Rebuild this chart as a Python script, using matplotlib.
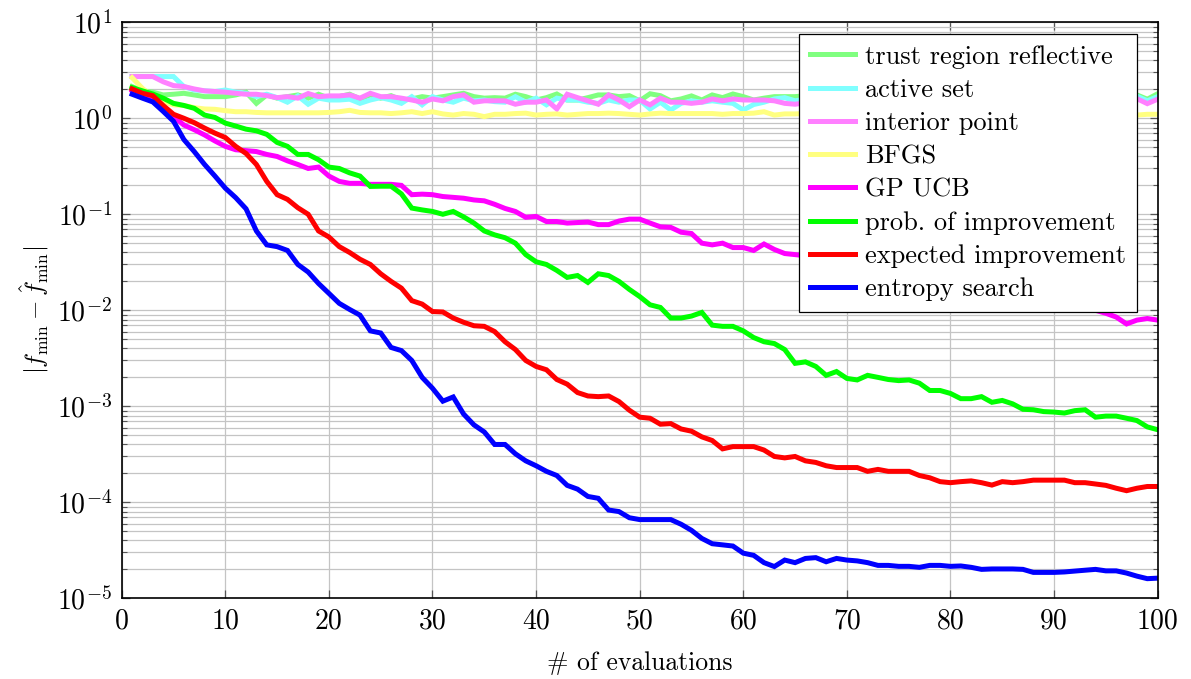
import numpy as np
import matplotlib
matplotlib.use("Agg")
import matplotlib.pyplot as plt

plt.rcParams['font.family'] = 'cmr10'
plt.rcParams['mathtext.fontset'] = 'cm'
plt.rcParams['axes.formatter.use_mathtext'] = True

## DATA
evals = np.arange(1, 101)

trust_region = [2.14, 1.93, 1.87, 1.75, 1.78, 1.82, 1.75, 1.68, 1.68, 1.68,
                1.75, 1.87, 1.43, 1.75, 1.62, 1.68, 1.75, 1.62, 1.78, 1.62,
                1.68, 1.78, 1.59, 1.75, 1.62, 1.72, 1.55, 1.59, 1.68, 1.62,
                1.68, 1.75, 1.82, 1.68, 1.62, 1.64, 1.62, 1.78, 1.68, 1.55,
                1.64, 1.79, 1.55, 1.55, 1.64, 1.75, 1.75, 1.68, 1.72, 1.52,
                1.80, 1.72, 1.52, 1.59, 1.71, 1.55, 1.75, 1.64, 1.79, 1.68,
                1.55, 1.62, 1.68, 1.68, 1.68, 1.72, 1.60, 1.76, 1.65, 1.70,
                1.58, 1.74, 1.66, 1.62, 1.78, 1.64, 1.70, 1.56, 1.73, 1.66,
                1.61, 1.77, 1.68, 1.63, 1.72, 1.58, 1.75, 1.66, 1.70, 1.60,
                1.74, 1.65, 1.69, 1.62, 1.76, 1.67, 1.71, 1.75, 1.58, 1.80]

active_set = [2.72, 2.72, 2.72, 2.72, 2.72, 2.14, 1.97, 1.93, 1.90, 1.97,
              1.87, 1.82, 1.68, 1.78, 1.64, 1.47, 1.71, 1.40, 1.62, 1.55,
              1.55, 1.58, 1.43, 1.55, 1.64, 1.55, 1.43, 1.68, 1.38, 1.68,
              1.55, 1.47, 1.62, 1.52, 1.55, 1.49, 1.47, 1.68, 1.47, 1.62,
              1.38, 1.62, 1.55, 1.55, 1.47, 1.43, 1.55, 1.47, 1.55, 1.55,
              1.25, 1.47, 1.22, 1.43, 1.52, 1.47, 1.52, 1.47, 1.43, 1.22,
              1.39, 1.47, 1.59, 1.64, 1.52, 1.58, 1.50, 1.62, 1.45, 1.55,
              1.60, 1.48, 1.56, 1.40, 1.58, 1.52, 1.62, 1.47, 1.55, 1.50,
              1.60, 1.44, 1.57, 1.53, 1.61, 1.46, 1.55, 1.50, 1.63, 1.48,
              1.56, 1.42, 1.58, 1.52, 1.60, 1.49, 1.57, 1.70, 1.52, 1.68]

interior_point = [2.72, 2.72, 2.72, 2.40, 2.19, 2.14, 2.02, 1.93, 1.90, 1.87,
                  1.82, 1.78, 1.78, 1.72, 1.64, 1.68, 1.62, 1.81, 1.68, 1.71,
                  1.71, 1.75, 1.62, 1.82, 1.68, 1.68, 1.62, 1.55, 1.47, 1.59,
                  1.52, 1.68, 1.75, 1.47, 1.52, 1.52, 1.52, 1.40, 1.47, 1.47,
                  1.55, 1.25, 1.78, 1.64, 1.52, 1.40, 1.75, 1.55, 1.32, 1.55,
                  1.38, 1.62, 1.47, 1.47, 1.43, 1.47, 1.59, 1.52, 1.59, 1.55,
                  1.55, 1.55, 1.52, 1.43, 1.40, 1.45, 1.52, 1.40, 1.50, 1.46,
                  1.55, 1.42, 1.48, 1.52, 1.38, 1.47, 1.50, 1.44, 1.53, 1.41,
                  1.49, 1.46, 1.52, 1.39, 1.48, 1.45, 1.51, 1.43, 1.47, 1.50,
                  1.40, 1.48, 1.44, 1.52, 1.46, 1.55, 1.60, 1.60, 1.42, 1.58]

bfgs = [2.65, 2.05, 1.68, 1.49, 1.38, 1.36, 1.29, 1.25, 1.24, 1.20,
        1.17, 1.17, 1.15, 1.14, 1.14, 1.14, 1.14, 1.14, 1.14, 1.15,
        1.17, 1.21, 1.15, 1.14, 1.14, 1.12, 1.14, 1.17, 1.12, 1.17,
        1.11, 1.08, 1.12, 1.10, 1.04, 1.10, 1.10, 1.12, 1.13, 1.08,
        1.10, 1.11, 1.08, 1.10, 1.12, 1.12, 1.13, 1.12, 1.10, 1.08,
        1.11, 1.13, 1.12, 1.12, 1.12, 1.12, 1.12, 1.10, 1.12, 1.12,
        1.13, 1.17, 1.08, 1.11, 1.11, 1.12, 1.10, 1.13, 1.11, 1.12,
        1.09, 1.12, 1.13, 1.11, 1.10, 1.12, 1.14, 1.11, 1.12, 1.10,
        1.13, 1.12, 1.11, 1.09, 1.12, 1.13, 1.11, 1.12, 1.10, 1.12,
        1.13, 1.11, 1.12, 1.10, 1.12, 1.11, 1.12, 1.08, 1.10, 1.10]

gp_ucb = [1.95, 1.78, 1.62, 1.32, 1.04, 0.85, 0.76, 0.67, 0.58, 0.51,
          0.47, 0.46, 0.45, 0.42, 0.40, 0.36, 0.33, 0.30, 0.31, 0.25,
          0.22, 0.21, 0.21, 0.205, 0.205, 0.205, 0.20, 0.16, 0.162, 0.16,
          0.153, 0.15, 0.147, 0.141, 0.138, 0.127, 0.115, 0.107, 0.093, 0.095,
          0.084, 0.084, 0.081, 0.082, 0.083, 0.078, 0.078, 0.085, 0.089, 0.089,
          0.081, 0.074, 0.073, 0.065, 0.063, 0.050, 0.048, 0.050, 0.045, 0.045,
          0.042, 0.049, 0.043, 0.039, 0.038, 0.037, 0.035, 0.036, 0.033, 0.031,
          0.032, 0.029, 0.028, 0.027, 0.027, 0.025, 0.024, 0.023, 0.022, 0.022,
          0.020, 0.019, 0.019, 0.017, 0.016, 0.016, 0.015, 0.014, 0.013, 0.013,
          0.012, 0.011, 0.0105, 0.0100, 0.0093, 0.0085, 0.0072, 0.0079, 0.0082, 0.0079]

prob_improvement = [2.09, 1.93, 1.79, 1.62, 1.43, 1.36, 1.27, 1.08, 1.02, 0.89,
                    0.83, 0.77, 0.74, 0.68, 0.56, 0.51, 0.42, 0.42, 0.37, 0.31,
                    0.30, 0.27, 0.25, 0.195, 0.196, 0.196, 0.163, 0.116, 0.111, 0.107,
                    0.100, 0.107, 0.094, 0.081, 0.067, 0.061, 0.057, 0.050, 0.038, 0.032,
                    0.030, 0.026, 0.022, 0.023, 0.0195, 0.024, 0.023, 0.020, 0.0165, 0.0139,
                    0.0114, 0.0107, 0.0083, 0.0083, 0.0087, 0.0095, 0.0070, 0.0068, 0.0068, 0.0061,
                    0.0052, 0.0047, 0.0045, 0.0039, 0.0028, 0.0029, 0.0026, 0.0021, 0.0023, 0.00195,
                    0.00188, 0.0021, 0.0020, 0.0019, 0.00185, 0.00188, 0.00174, 0.00146, 0.00146, 0.00136,
                    0.0012, 0.0012, 0.00126, 0.0011, 0.00115, 0.00106, 0.00093, 0.00092, 0.00088, 0.00087,
                    0.00085, 0.0009, 0.00092, 0.00077, 0.00079, 0.00079, 0.00075, 0.00071, 0.00061, 0.00057]

expected_improvement = [2.02, 1.82, 1.72, 1.36, 1.10, 1.0, 0.90, 0.79, 0.70, 0.63,
                        0.51, 0.43, 0.33, 0.22, 0.16, 0.143, 0.117, 0.10, 0.067, 0.058,
                        0.046, 0.040, 0.034, 0.030, 0.024, 0.020, 0.017, 0.0126, 0.0116, 0.0097,
                        0.0096, 0.0083, 0.0075, 0.0069, 0.0068, 0.0060, 0.0047, 0.0039, 0.0030, 0.0026,
                        0.0024, 0.0019, 0.0017, 0.00139, 0.00128, 0.00126, 0.00128, 0.00112, 0.00091, 0.00077,
                        0.00075, 0.00065, 0.00066, 0.00058, 0.00055, 0.00048, 0.00044, 0.00036, 0.00038, 0.00038,
                        0.00038, 0.00035, 0.00030, 0.00029, 0.00030, 0.00027, 0.00026, 0.00024, 0.00023, 0.00023,
                        0.00023, 0.00021, 0.00022, 0.00021, 0.00021, 0.00021, 0.00019, 0.00018, 0.000164, 0.00016,
                        0.000164, 0.000167, 0.00016, 0.000151, 0.000164, 0.00016, 0.000164, 0.00017, 0.00017, 0.00017,
                        0.00017, 0.00016, 0.00016, 0.000155, 0.00015, 0.00014, 0.000132, 0.00014, 0.000146, 0.000146]

entropy_search = [1.78, 1.62, 1.48, 1.18, 0.93, 0.60, 0.45, 0.33, 0.25, 0.187,
                  0.149, 0.114, 0.067, 0.048, 0.046, 0.042, 0.030, 0.025, 0.019, 0.015,
                  0.0118, 0.0102, 0.0089, 0.0061, 0.0058, 0.0041, 0.0038, 0.0030, 0.0020, 0.00154,
                  0.00113, 0.00125, 0.00083, 0.00064, 0.00054, 0.00040, 0.00040, 0.00032, 0.00027, 0.00024,
                  0.00021, 0.00019, 0.00015, 0.000137, 0.000115, 0.00011, 8.3e-5, 8.0e-5, 6.9e-5, 6.6e-5,
                  6.6e-5, 6.6e-5, 6.6e-5, 5.9e-5, 5.1e-5, 4.2e-5, 3.7e-5, 3.6e-5, 3.5e-5, 2.95e-5,
                  2.8e-5, 2.35e-5, 2.14e-5, 2.5e-5, 2.35e-5, 2.6e-5, 2.65e-5, 2.4e-5, 2.6e-5, 2.5e-5,
                  2.45e-5, 2.35e-5, 2.2e-5, 2.2e-5, 2.15e-5, 2.15e-5, 2.1e-5, 2.2e-5, 2.2e-5, 2.15e-5,
                  2.17e-5, 2.1e-5, 2.0e-5, 2.02e-5, 2.02e-5, 2.02e-5, 2.0e-5, 1.86e-5, 1.86e-5, 1.86e-5,
                  1.88e-5, 1.92e-5, 1.96e-5, 2.0e-5, 1.93e-5, 1.93e-5, 1.83e-5, 1.7e-5, 1.6e-5, 1.62e-5]

labels = ['trust region reflective', 'active set', 'interior point', 'BFGS',
          'GP UCB', 'prob. of improvement', 'expected improvement', 'entropy search']
colors = ['#80ff80', '#80ffff', '#ff80ff', '#ffff80',
          '#ff00ff', '#00ff00', '#ff0000', '#0000ff']
series = [trust_region, active_set, interior_point, bfgs,
          gp_ucb, prob_improvement, expected_improvement, entropy_search]

xticks = [0, 10, 20, 30, 40, 50, 60, 70, 80, 90, 100]
yticks = [1e-5, 1e-4, 1e-3, 1e-2, 1e-1, 1e0, 1e1]
yticklabels = [r'$10^{-5}$', r'$10^{-4}$', r'$10^{-3}$', r'$10^{-2}$',
               r'$10^{-1}$', r'$10^{0}$', r'$10^{1}$']

##PLOT
fig = plt.figure(figsize=(11.91, 6.79), dpi=100)
ax = fig.add_axes([0.1022, 0.1189, 0.8698, 0.8483])

for s, c, lab in zip(series, colors, labels):
    ax.plot(evals, s, color=c, lw=3.6, label=lab, solid_joinstyle='miter')

ax.set_yscale('log')
ax.set_xlim(0, 100)
ax.set_ylim(1e-5, 1e1)
ax.set_xticks(xticks)
ax.set_xticklabels([str(t) for t in xticks])
ax.set_yticks(yticks)
ax.set_yticklabels(yticklabels)
ax.yaxis.set_minor_locator(matplotlib.ticker.LogLocator(base=10, subs=np.arange(2, 10)))
ax.yaxis.set_minor_formatter(matplotlib.ticker.NullFormatter())

ax.grid(True, which='major', color='#c4c4c4', lw=0.9)
ax.grid(True, which='minor', axis='y', color='#c4c4c4', lw=0.9)
ax.set_axisbelow(True)
ax.tick_params(which='both', direction='in', top=True, right=True, labelsize=20, color='#555555')
ax.tick_params(which='major', length=6, width=0.9, pad=7)
ax.tick_params(which='minor', length=3.5, width=0.8)
for sp in ax.spines.values():
    sp.set_linewidth(1.2)

ax.set_xlabel('# of evaluations', fontsize=18.5, labelpad=12)
ax.set_ylabel(r'$|f_{\min} - \hat{f}_{\min}|$', fontsize=18, labelpad=4)

leg = ax.legend(loc='upper right', bbox_to_anchor=(0.980, 0.979), borderaxespad=0,
                fontsize=19, frameon=True, fancybox=False, framealpha=1,
                edgecolor='black', handlelength=1.7, handletextpad=0.4,
                labelspacing=0.36, borderpad=0.4)
leg.get_frame().set_linewidth(0.9)

fig.savefig('out.png', dpi=100)
